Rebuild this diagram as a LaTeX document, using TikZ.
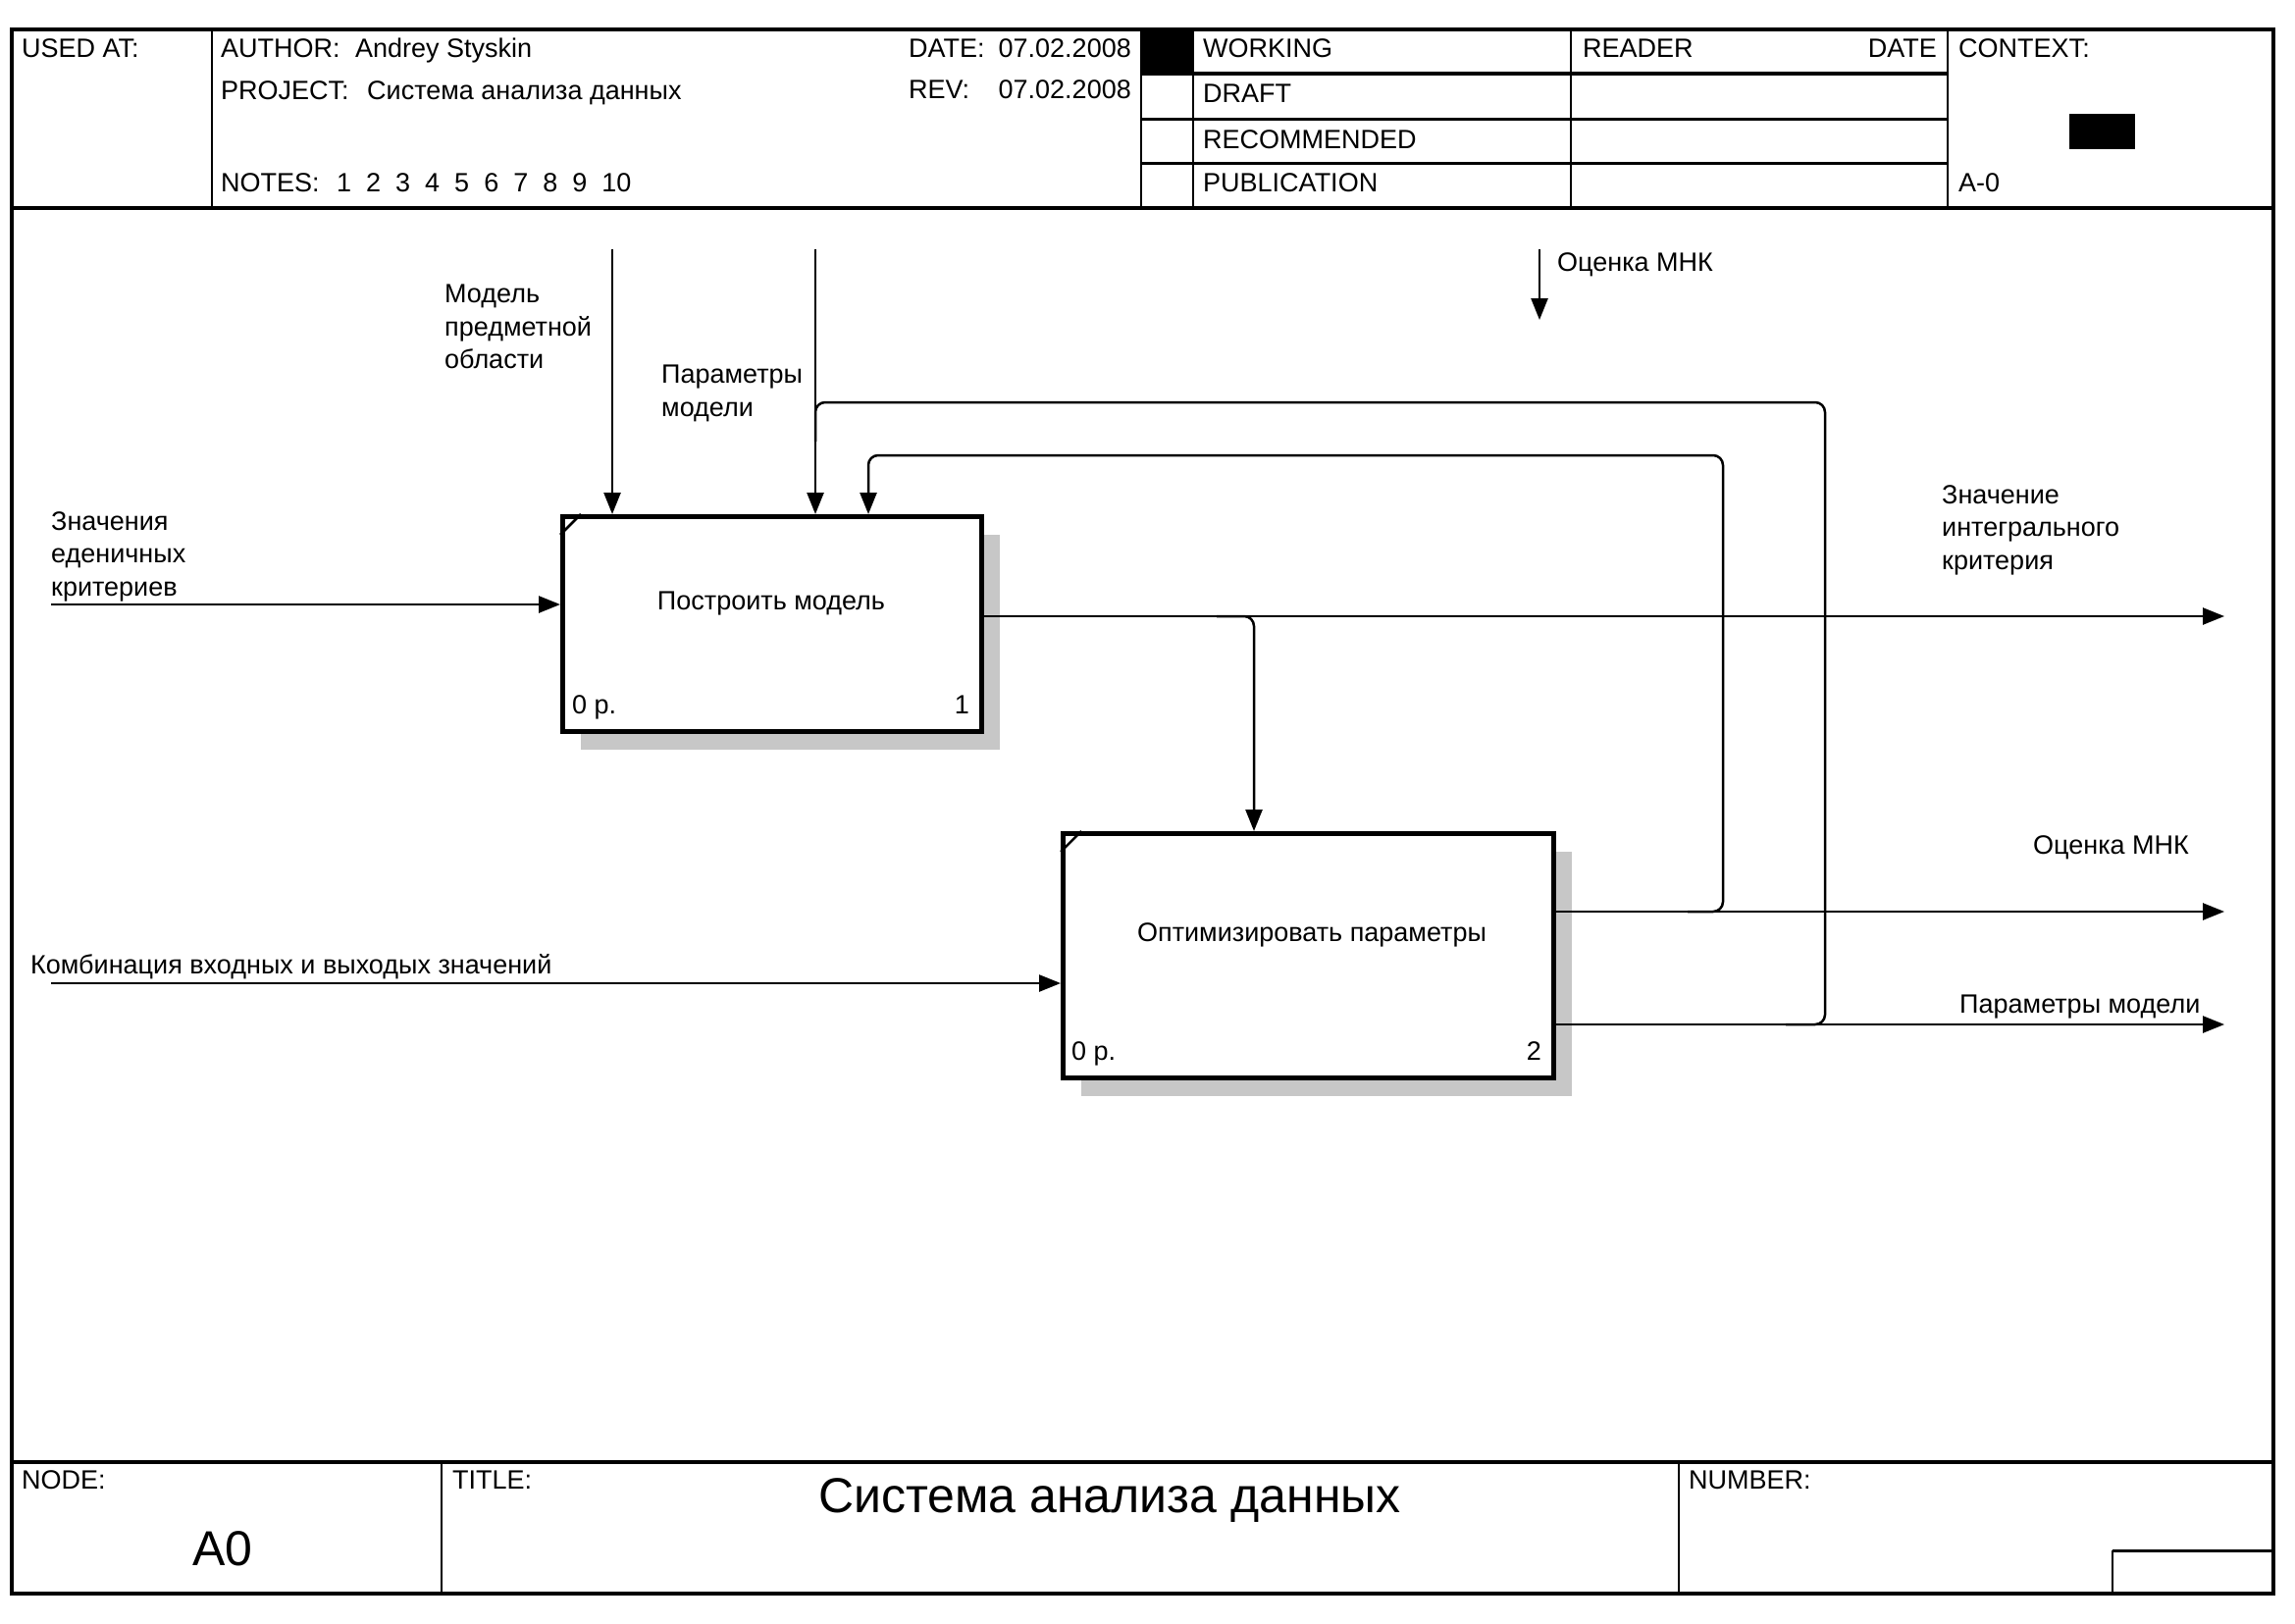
\documentclass[tikz,border=0pt]{standalone}
\usepackage{fontspec}
\setmainfont{Liberation Sans}
\usetikzlibrary{arrows.meta}
\begin{document}
\begin{tikzpicture}[x=1pt,y=-1pt,
  txt/.style={inner sep=0pt, font=\fontsize{27}{33.5}\selectfont},
  lbl/.style={txt, anchor=mid west, yshift=-7pt},
  rlbl/.style={txt, anchor=mid east, yshift=-7pt},
  mlbl/.style={txt, anchor=west, align=left, yshift=-3pt},
  ctext/.style={txt, yshift=-3pt},
  big/.style={inner sep=0pt, font=\fontsize{50}{60}\selectfont},
  func/.style={draw, line width=4.5pt, fill=white, inner sep=0pt, anchor=north west},
  shade/.style={fill=black!22},
  conn/.style={line width=2.5pt},
  arr/.style={conn, -{Triangle[length=22pt,width=17pt]}},
  frame/.style={line width=3.5pt},
  rule/.style={line width=3pt},
  thin/.style={line width=1.5pt},
]
\useasboundingbox (0,0) rectangle (2339,1654);

% ---------- sheet frame ----------
\draw[frame] (12,30) rectangle (2317,1624);
\draw[frame] (12,212) -- (2317,212);
\draw[frame] (12,1490) -- (2317,1490);

% header grid
\foreach \cx in {216,1163,1216,1601,1985} \draw[thin] (\cx,30) -- (\cx,212);
\foreach \ry in {75,121,166} \draw[rule] (1163,\ry) -- (1985,\ry);
\fill (1163,30) rectangle (1216,75);
\fill (2109,116) rectangle (2176,152);

% footer grid
\draw[thin] (450,1490) -- (450,1624);
\draw[thin] (1711,1490) -- (1711,1624);
\draw[rule] (2317,1580) -- (2153,1580);
\draw[thin] (2153,1580) -- (2153,1624);

% ---------- header texts ----------
\node[lbl] (usedat) at (22,49) {USED AT:};
\node[lbl] (author) at (225,49) {AUTHOR:};
\node[lbl] (authorv) at (362,49) {Andrey Styskin};
\node[lbl] (project) at (225,92) {PROJECT:};
\node[lbl] (projectv) at (374,92) {Система анализа данных};
\node[lbl] (notes) at (225,186) {NOTES:};
\node[lbl] (notesv) at (343,186) {1~~2~~3~~4~~5~~6~~7~~8~~9~~10};
\node[lbl] (date) at (926,49) {DATE:};
\node[rlbl] (datev) at (1153,49) {07.02.2008};
\node[lbl] (rev) at (926,91) {REV:};
\node[rlbl] (revv) at (1153,91) {07.02.2008};
\node[lbl] (working) at (1226,49) {WORKING};
\node[lbl] (draft) at (1226,95) {DRAFT};
\node[lbl] (recommended) at (1226,142) {RECOMMENDED};
\node[lbl] (publication) at (1226,186) {PUBLICATION};
\node[lbl] (reader) at (1613,49) {READER};
\node[rlbl] (readerdate) at (1974,49) {DATE};
\node[lbl] (context) at (1996,49) {CONTEXT:};
\node[lbl] (contextv) at (1996,186) {A-0};

% ---------- footer texts ----------
\node[lbl] (nodelbl) at (22,1508) {NODE:};
\node[big] (nodev) at (227,1578) {A0};
\node[lbl] (titlelbl) at (461,1508) {TITLE:};
\node[big, yshift=-6pt] (titlev) at (1131,1523) {Система анализа данных};
\node[lbl] (numberlbl) at (1721,1508) {NUMBER:};

% ---------- activity boxes ----------
\fill[shade] (592,545) rectangle (1019,764);
\node[func, minimum width=427pt, minimum height=219pt] (b1) at (571,524) {};
\draw[conn] (571,545) -- (592,524);
\node[ctext] (b1t) at (786,612) {Построить модель};
\node[lbl] (b1c) at (583,718) {0 р.};
\node[rlbl] (b1n) at (988,718) {1};

\fill[shade] (1102,868) rectangle (1602,1117);
\node[func, minimum width=500pt, minimum height=249pt] (b2) at (1081,847) {};
\draw[conn] (1081,868) -- (1102,847);
\node[ctext] (b2t) at (1337,950) {Оптимизировать параметры};
\node[lbl] (b2c) at (1092,1071) {0 р.};
\node[rlbl] (b2n) at (1571,1071) {2};

% ---------- free ends ----------
\coordinate (ctl1) at (624,254);
\coordinate (ctl2) at (831,254);
\coordinate (ctl3) at (1569,254);
\coordinate (ctl3e) at (1569,326);
\coordinate (in1) at (52,616);
\coordinate (in2) at (52,1002);
\coordinate (out1) at (2267,628);
\coordinate (out2) at (2267,929);
\coordinate (out3) at (2267,1044);

% ---------- connectors ----------
\draw[arr] (ctl1) -- (ctl1 |- b1.north);
\draw[arr] (ctl2) -- (ctl2 |- b1.north);
\draw[arr] (ctl3) -- (ctl3e);
\draw[arr] (in1) -- (in1 -| b1.west);
\draw[arr] (in2) -- (in2 -| b2.west);
\draw[arr] (out1 -| b1.east) -- (out1);
\draw[arr] (out2 -| b2.east) -- (out2);
\draw[arr] (out3 -| b2.east) -- (out3);

% output of box 1 branching down into box 2
\draw[arr, rounded corners=10pt] (1240,628) -| (1278,847);
% feedback: estimate back into box 1
\draw[arr, rounded corners=10pt] (1720,929) -| (1756,464) -| (885,524);
% feedback: model parameters back into box 1
\draw[conn, rounded corners=10pt] (1820,1044) -| (1860,410) -| (831,450);

% ---------- arrow labels ----------
\node[mlbl] (lbl1) at (453,330) {Модель\\предметной\\области};
\node[mlbl] (lbl2) at (674,398) {Параметры\\модели};
\node[mlbl] (lbl3) at (52,564) {Значения\\еденичных\\критериев};
\node[lbl] (lbl4) at (31,983) {Комбинация входных и выходых значений};
\node[mlbl] (lbl5) at (1979,537) {Значение\\интегрального\\критерия};
\node[lbl] (lbl6) at (2072,861) {Оценка МНК};
\node[lbl] (lbl7) at (1997,1023) {Параметры модели};
\node[lbl] (lbl8) at (1587,267) {Оценка МНК};
\end{tikzpicture}
\end{document}
